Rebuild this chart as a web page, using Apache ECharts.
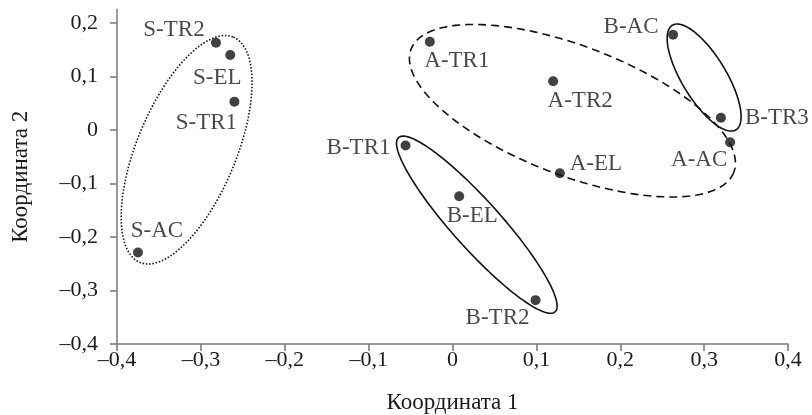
<!DOCTYPE html>
<html>
<head>
<meta charset="utf-8">
<script src="https://cdn.jsdelivr.net/npm/echarts@6/dist/echarts.min.js"></script>
<style>html,body{margin:0;padding:0;background:#fff;}#c{width:812px;height:415px;}</style>
</head>
<body>
<div id="c"></div>
<script>
// ---- data ----
var names = ['S-TR2','S-EL','S-TR1','S-AC','A-TR1','A-TR2','B-AC','B-TR3','A-AC','B-TR1','A-EL','B-EL','B-TR2'];
var coord1 = [-0.282,-0.265,-0.260,-0.375,-0.027,0.120,0.263,0.320,0.331,-0.056,0.128,0.008,0.099];
var coord2 = [0.163,0.140,0.053,-0.229,0.165,0.091,0.178,0.023,-0.023,-0.029,-0.081,-0.124,-0.318];
var xTicks = [-0.4,-0.3,-0.2,-0.1,0,0.1,0.2,0.3,0.4];
var yTicks = [-0.4,-0.3,-0.2,-0.1,0,0.1,0.2];
// ellipses: centre (x,y), first half-axis vector, second half-axis vector (data units)
var ellipseCentre = [[-0.317,-0.037],[0.143,0.036],[0.300,0.098],[0.029,-0.177]];
var ellipseAxisU = [[0.0557,0.2105],[0.1924,-0.1150],[0.0379,-0.0977],[0.0933,-0.1628]];
var ellipseAxisV = [[0.0546,-0.0355],[-0.0275,-0.1130],[-0.0225,-0.0215],[-0.0213,-0.0301]];

// ---- style (not data) ----
var labelOffsets = {
  'S-TR2':[-42,-13],'S-EL':[-13,23],'S-TR1':[-28,21],'S-AC':[19,-22],
  'A-TR1':[27,19],'A-TR2':[27,20],'B-AC':[-42,-8],'B-TR3':[56,0],
  'A-AC':[-31,18],'B-TR1':[-47,2],'A-EL':[36,-9],'B-EL':[13,20],'B-TR2':[-38,18]
};
var ellipseDash = [[1.5,1.8],[8,5],null,null];
var FONT = '"Liberation Serif","Times New Roman",serif';
var TEXT = '#1a1a1a';

function fmt(v){
  var r = Math.round(v*10)/10;
  if (Math.abs(r) < 1e-9) return '0';
  return (r < 0 ? '\u2013' : '') + Math.abs(r).toFixed(1).replace('.', ',');
}

var pts = names.map(function(n,i){
  return {
    value:[coord1[i], coord2[i]],
    name:n,
    label:{show:true, position:'inside', offset:labelOffsets[n], formatter:'{b}',
      color:TEXT, fontFamily:FONT, fontSize:23, align:'center', verticalAlign:'middle'}
  };
});

var ellData = ellipseCentre.map(function(c,i){
  return [c[0], c[1], ellipseAxisU[i][0], ellipseAxisU[i][1], ellipseAxisV[i][0], ellipseAxisV[i][1]];
});

var chart = echarts.init(document.getElementById('c'), null, {renderer:'canvas'});
chart.setOption({
  animation:false,
  backgroundColor:'#fff',
  grid:{left:117, right:24, top:9.6, bottom:71, containLabel:false, outerBoundsMode:'none'},
  xAxis:{
    type:'value', min:-0.4, max:0.4, interval:0.1,
    name:'Координата 1', nameLocation:'middle', nameGap:47,
    nameTextStyle:{fontFamily:FONT, fontSize:23, color:TEXT},
    axisLine:{show:true, onZero:false, lineStyle:{color:'#777', width:1.5}},
    axisTick:{show:true, inside:false, length:7, lineStyle:{color:'#777', width:1.5}},
    axisLabel:{fontFamily:FONT, fontSize:22, color:TEXT, margin:5, formatter:fmt},
    splitLine:{show:false}
  },
  yAxis:{
    type:'value', min:-0.4, max:0.225, interval:0.1,
    name:'Координата 2', nameLocation:'middle', nameGap:85, nameRotate:90,
    nameTextStyle:{fontFamily:FONT, fontSize:23, color:TEXT},
    axisLine:{show:true, onZero:false, lineStyle:{color:'#777', width:1.5}},
    axisTick:{show:true, inside:false, length:7, customValues:yTicks, lineStyle:{color:'#777', width:1.5}},
    axisLabel:{fontFamily:FONT, fontSize:22, color:TEXT, margin:19, customValues:yTicks, formatter:fmt},
    splitLine:{show:false}
  },
  series:[
    {
      type:'custom',
      data:ellData,
      encode:{x:0, y:1},
      silent:true,
      z:1,
      renderItem:function(params, api){
        var cx = api.value(0), cy = api.value(1);
        var ux = api.value(2), uy = api.value(3), vx = api.value(4), vy = api.value(5);
        var points = [];
        var N = 180;
        for (var k = 0; k <= N; k++) {
          var t = 2*Math.PI*k/N;
          points.push(api.coord([cx + ux*Math.cos(t) + vx*Math.sin(t), cy + uy*Math.cos(t) + vy*Math.sin(t)]));
        }
        var dash = ellipseDash[params.dataIndex];
        return {
          type:'polyline',
          shape:{points:points},
          style:{fill:null, stroke:'#111', lineWidth:1.6, lineDash:dash || null}
        };
      }
    },
    {
      type:'scatter',
      symbol:'circle',
      symbolSize:10,
      itemStyle:{color:'#111'},
      z:3,
      data:pts
    }
  ]
});
</script>
</body>
</html>
